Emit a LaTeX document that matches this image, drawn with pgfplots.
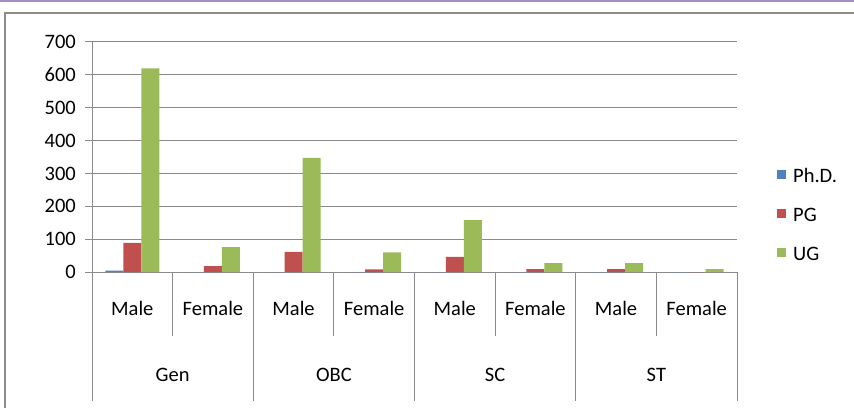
\documentclass[border=0pt]{standalone}
\usepackage{pgfplots}
\pgfplotsset{compat=1.18}
\usepackage{fontspec}
\setmainfont{Carlito}
\definecolor{phd}{HTML}{4F81BD}
\definecolor{pg}{HTML}{C0504D}
\definecolor{ug}{HTML}{9BBB59}
\definecolor{gridc}{HTML}{8A8A8A}
\definecolor{framec}{HTML}{8C8C8C}
\definecolor{purp}{HTML}{A58CC0}
\begin{document}
\begin{tikzpicture}
\fontsize{20.5}{24}\selectfont
\begin{axis}[
  at={(92pt,135pt)}, anchor=south west,
  scale only axis, width=645pt, height=230pt,
  ybar=0pt, bar width=18pt,
  xmin=-0.5, xmax=7.5, ymin=0, ymax=700,
  xtick=\empty,
  ytick={0,100,...,700},
  ymajorgrids, grid style={gridc, line width=1pt},
  axis line style={gridc, line width=1pt},
  axis x line*=bottom, axis y line*=left,
  tick style={gridc, line width=1pt},
  tick align=outside, major tick length=7pt,
  /pgf/number format/assume math mode=true,
  yticklabel style={font=\fontsize{20.5}{24}\selectfont, inner sep=0pt, xshift=-9pt},
  clip=false,
  legend style={draw=none, fill=none, at={(1.062,0.25)}, anchor=west,
    inner sep=0pt, row sep=25pt,
    nodes={inner sep=0pt, anchor=west, text height=14pt, text depth=0pt},
    font=\fontsize{20.5}{24}\selectfont},
  legend image code/.code={\fill[#1,draw=none] (0pt,-3.5pt) rectangle (9pt,5.5pt);},
  legend cell align=left,
]
\addplot[fill=phd, draw=none] coordinates {(0,4) (1,0) (2,0) (3,0) (4,0) (5,0) (6,0) (7,0)};
\addplot[fill=pg, draw=none] coordinates {(0,89) (1,18) (2,61) (3,8) (4,46) (5,9) (6,9) (7,0)};
\addplot[fill=ug, draw=none] coordinates {(0,620) (1,76) (2,347) (3,60) (4,158) (5,27) (6,27) (7,9)};
\legend{\hspace{7pt}Ph.D.,\hspace{7pt}PG,\hspace{7pt}UG}
% multi-level category axis separators
\pgfplotsinvokeforeach{0.5,2.5,4.5,6.5}{\draw[gridc, line width=1pt] (axis cs:#1,0) -- ++(0pt,-64pt);}
\pgfplotsinvokeforeach{-0.5,1.5,3.5,5.5,7.5}{\draw[gridc, line width=1pt] (axis cs:#1,0) -- ++(0pt,-129pt);}
\pgfplotsinvokeforeach{0,2,4,6}{\node[inner sep=0pt] at ([yshift=-36pt]axis cs:#1,0) {Male};}
\pgfplotsinvokeforeach{1,3,5,7}{\node[inner sep=0pt] at ([yshift=-36pt]axis cs:#1,0) {Female};}
\node[inner sep=0pt] at ([yshift=-103pt]axis cs:0.5,0) {Gen};
\node[inner sep=0pt] at ([yshift=-103pt]axis cs:2.5,0) {OBC};
\node[inner sep=0pt] at ([yshift=-103pt]axis cs:4.5,0) {SC};
\node[inner sep=0pt] at ([yshift=-103pt]axis cs:6.5,0) {ST};
\end{axis}
\draw[framec, line width=1.5pt] (5pt,-5pt) -- (5pt,394pt) -- (860pt,394pt);
\fill[purp] (0pt,405.3pt) rectangle (854pt,407pt);
\pgfresetboundingbox
\path[use as bounding box] (0pt,0pt) rectangle (854pt,407pt);
\end{tikzpicture}
\end{document}
